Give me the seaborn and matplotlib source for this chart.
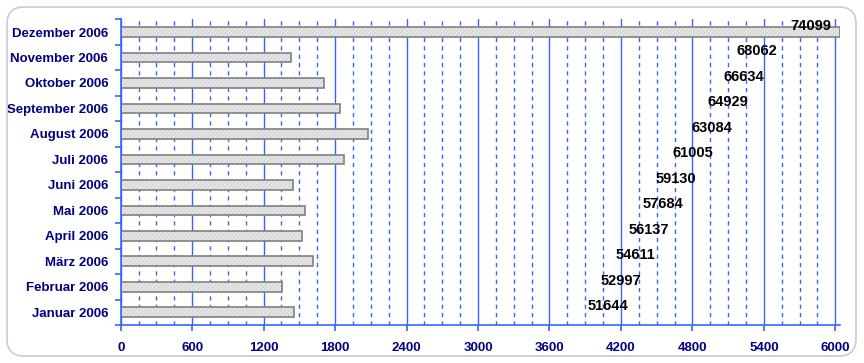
import matplotlib
matplotlib.use('Agg')
import matplotlib.pyplot as plt
from matplotlib.ticker import MultipleLocator
from matplotlib.patches import FancyBboxPatch
import pandas as pd
import seaborn as sns

months = ['Januar 2006', 'Februar 2006', 'März 2006', 'April 2006', 'Mai 2006', 'Juni 2006',
          'Juli 2006', 'August 2006', 'September 2006', 'Oktober 2006', 'November 2006', 'Dezember 2006']
monthly = [1453, 1353, 1614, 1526, 1547, 1446, 1875, 2079, 1845, 1705, 1428, 6037]
cumulative = [51644, 52997, 54611, 56137, 57684, 59130, 61005, 63084, 64929, 66634, 68062, 74099]
x_ticks = list(range(0, 6001, 600))

blue = '#3366ff'
navy = '#000080'

sns.set_style('white')
plt.rcParams['font.family'] = ['Liberation Sans', 'DejaVu Sans']
plt.rcParams['font.weight'] = 'bold'
plt.rcParams['hatch.color'] = '#c8c8c8'
plt.rcParams['hatch.linewidth'] = 0.5

df = pd.DataFrame({'month': months, 'value': monthly, 'total': cumulative})
order = months[::-1]

fig = plt.figure(figsize=(8.64, 3.63), dpi=100)
ax = fig.add_axes([0.1397, 0.1047, 0.8329, 0.8421])

sns.barplot(data=df, x='value', y='month', order=order, orient='h', ax=ax,
            color='#e6e6e6', edgecolor='#808080', linewidth=1.2, width=0.38)
for p in ax.patches:
    p.set_hatch('////////')
    p._hatch_color = matplotlib.colors.to_rgba('#c8c8c8')

ax.set_xlim(0, 6042)
ax.set_xticks(x_ticks)
ax.xaxis.set_minor_locator(MultipleLocator(150))
ax.set_axisbelow(True)
ax.grid(axis='x', which='major', color=blue, lw=1, ls='-')
ax.grid(axis='x', which='minor', color=blue, lw=1, ls=(0, (3, 3)))
ax.grid(axis='y', visible=False)

# ticks between categories on the left
ax.set_yticks([i + 0.5 for i in range(-1, 12)], minor=True)
ax.tick_params(axis='y', which='major', length=0, pad=9, labelsize=9.5, labelcolor=navy)
ax.tick_params(axis='y', which='minor', length=4, width=1.2, color=blue, direction='out', left=True)
ax.tick_params(axis='x', which='major', length=4, width=1.2, color=blue, direction='out',
               bottom=True, labelsize=9.5, labelcolor=navy, pad=8)
ax.tick_params(axis='x', which='minor', length=0)
for lab in ax.get_yticklabels() + ax.get_xticklabels():
    lab.set_fontweight('bold')

for s in ['top', 'right']:
    ax.spines[s].set_visible(False)
for s in ['left', 'bottom']:
    ax.spines[s].set_color(blue)
    ax.spines[s].set_linewidth(1.2)
ax.set_xlabel('')
ax.set_ylabel('')

# running totals on a hidden secondary scale
ax2 = ax.twiny()
ax2.set_xlim(-2318, 77319)
ax2.set_axis_off()
for i, m in enumerate(order):
    t = df.loc[df['month'] == m, 'total'].iloc[0]
    ax2.text(t, i - 0.08, str(t), ha='center', va='baseline', fontsize=10.5,
             fontweight='bold', color='black')

fig.patches.append(FancyBboxPatch((0.07, 0.07), 8.49, 3.49,
                                  boxstyle='round,pad=0,rounding_size=0.17',
                                  transform=fig.dpi_scale_trans, fc='none',
                                  ec='#c8ccd4', lw=1.2))

fig.savefig('out.png', dpi=100)
